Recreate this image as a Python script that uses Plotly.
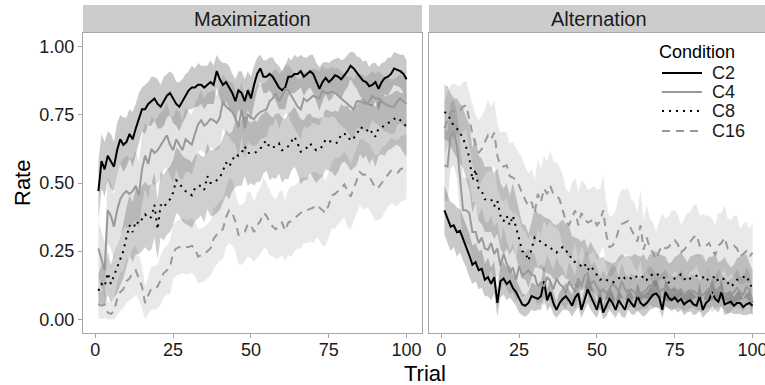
import numpy as np
import plotly.graph_objects as go

trials = list(range(1, 101))
conditions = ["C2", "C4", "C8", "C16"]
panels = ["Maximization", "Alternation"]

max_c2 = [0.47,0.58,0.55,0.60,0.58,0.56,0.62,0.66,0.64,0.65,
          0.68,0.66,0.70,0.74,0.77,0.77,0.79,0.80,0.81,0.79,
          0.78,0.80,0.82,0.83,0.81,0.79,0.78,0.80,0.82,0.84,
          0.85,0.85,0.86,0.86,0.85,0.86,0.87,0.86,0.91,0.88,
          0.86,0.87,0.85,0.83,0.80,0.84,0.83,0.80,0.84,0.81,
          0.86,0.90,0.92,0.89,0.89,0.90,0.89,0.87,0.85,0.84,
          0.85,0.89,0.89,0.90,0.90,0.91,0.89,0.90,0.91,0.90,
          0.87,0.845,0.87,0.885,0.87,0.88,0.895,0.89,0.88,0.895,
          0.91,0.93,0.92,0.905,0.89,0.875,0.87,0.855,0.86,0.87,
          0.845,0.87,0.885,0.89,0.90,0.92,0.915,0.91,0.90,0.88]
max_c4 = [0.26,0.22,0.18,0.40,0.38,0.34,0.40,0.44,0.46,0.47,
          0.46,0.47,0.49,0.455,0.55,0.60,0.57,0.625,0.61,0.62,
          0.64,0.66,0.675,0.64,0.62,0.66,0.64,0.62,0.66,0.65,
          0.64,0.68,0.715,0.73,0.71,0.72,0.735,0.73,0.72,0.74,
          0.80,0.78,0.77,0.76,0.74,0.705,0.77,0.70,0.75,0.74,
          0.735,0.75,0.76,0.765,0.77,0.80,0.81,0.83,0.80,0.82,
          0.845,0.84,0.82,0.80,0.78,0.77,0.81,0.80,0.81,0.82,
          0.815,0.81,0.84,0.83,0.83,0.835,0.83,0.82,0.81,0.80,
          0.79,0.78,0.77,0.80,0.80,0.795,0.79,0.80,0.82,0.81,
          0.81,0.80,0.79,0.785,0.78,0.78,0.80,0.81,0.80,0.79]
max_c8 = [0.105,0.13,0.12,0.17,0.13,0.16,0.185,0.215,0.25,0.30,
          0.345,0.32,0.36,0.35,0.37,0.385,0.37,0.375,0.42,0.33,
          0.42,0.41,0.43,0.44,0.465,0.51,0.50,0.48,0.47,0.465,
          0.455,0.48,0.49,0.49,0.475,0.525,0.50,0.50,0.51,0.52,
          0.545,0.575,0.56,0.58,0.605,0.60,0.61,0.635,0.61,0.61,
          0.61,0.615,0.625,0.645,0.655,0.63,0.63,0.635,0.645,0.62,
          0.625,0.635,0.655,0.67,0.645,0.615,0.62,0.63,0.645,0.63,
          0.62,0.625,0.635,0.66,0.655,0.65,0.645,0.65,0.68,0.68,
          0.675,0.655,0.665,0.675,0.705,0.70,0.70,0.68,0.69,0.67,
          0.70,0.705,0.71,0.72,0.725,0.735,0.74,0.73,0.72,0.705]
max_c16 = [0.055,0.05,0.055,0.025,0.02,0.03,0.075,0.10,0.11,0.14,
           0.15,0.17,0.18,0.15,0.12,0.06,0.09,0.115,0.115,0.12,
           0.145,0.17,0.18,0.19,0.245,0.26,0.265,0.27,0.265,0.265,
           0.27,0.26,0.23,0.235,0.24,0.25,0.26,0.295,0.31,0.325,
           0.33,0.375,0.40,0.39,0.36,0.31,0.31,0.32,0.35,0.345,
           0.32,0.345,0.36,0.39,0.38,0.355,0.34,0.33,0.345,0.355,
           0.325,0.355,0.36,0.37,0.38,0.39,0.40,0.40,0.405,0.41,
           0.42,0.41,0.40,0.39,0.42,0.455,0.46,0.47,0.48,0.495,
           0.47,0.45,0.48,0.51,0.54,0.53,0.53,0.525,0.50,0.48,
           0.485,0.50,0.515,0.53,0.545,0.54,0.535,0.55,0.555,0.56]

alt_c2 = [0.40,0.37,0.34,0.345,0.32,0.325,0.295,0.27,0.235,0.20,
          0.21,0.18,0.185,0.145,0.155,0.13,0.155,0.06,0.14,0.15,
          0.13,0.14,0.115,0.10,0.075,0.055,0.05,0.06,0.085,0.08,
          0.075,0.085,0.14,0.07,0.10,0.06,0.035,0.06,0.075,0.085,
          0.07,0.05,0.08,0.095,0.035,0.07,0.11,0.085,0.06,0.035,
          0.08,0.025,0.05,0.075,0.06,0.035,0.07,0.05,0.035,0.075,
          0.06,0.045,0.085,0.06,0.05,0.06,0.075,0.09,0.095,0.08,
          0.035,0.10,0.08,0.07,0.08,0.065,0.075,0.055,0.065,0.07,
          0.055,0.05,0.085,0.035,0.06,0.07,0.10,0.075,0.065,0.10,
          0.055,0.06,0.065,0.05,0.06,0.06,0.045,0.055,0.06,0.05]
alt_c4 = [0.565,0.56,0.675,0.685,0.64,0.53,0.40,0.40,0.39,0.32,
          0.32,0.28,0.30,0.26,0.255,0.28,0.24,0.26,0.195,0.24,
          0.20,0.17,0.19,0.145,0.195,0.16,0.17,0.18,0.165,0.16,
          0.12,0.135,0.12,0.155,0.14,0.11,0.15,0.13,0.12,0.095,
          0.14,0.12,0.10,0.15,0.12,0.16,0.17,0.13,0.14,0.12,
          0.095,0.11,0.095,0.11,0.13,0.12,0.10,0.14,0.11,0.095,
          0.11,0.10,0.085,0.095,0.10,0.11,0.125,0.115,0.105,0.10,
          0.11,0.115,0.10,0.10,0.095,0.105,0.11,0.09,0.095,0.10,
          0.105,0.095,0.085,0.09,0.10,0.115,0.085,0.10,0.115,0.105,
          0.095,0.08,0.09,0.10,0.115,0.10,0.09,0.12,0.11,0.06]
alt_c8 = [0.76,0.755,0.73,0.71,0.70,0.68,0.665,0.63,0.595,0.51,
          0.55,0.48,0.47,0.44,0.44,0.44,0.415,0.435,0.38,0.36,
          0.38,0.345,0.38,0.34,0.295,0.25,0.245,0.215,0.255,0.30,
          0.29,0.285,0.275,0.27,0.265,0.25,0.245,0.255,0.265,0.25,
          0.245,0.215,0.21,0.205,0.195,0.205,0.18,0.195,0.18,0.16,
          0.145,0.15,0.145,0.14,0.135,0.14,0.15,0.16,0.15,0.155,
          0.15,0.16,0.155,0.15,0.16,0.145,0.16,0.165,0.17,0.16,
          0.155,0.15,0.135,0.14,0.15,0.155,0.165,0.15,0.14,0.15,
          0.155,0.16,0.16,0.155,0.14,0.15,0.15,0.16,0.14,0.145,
          0.15,0.135,0.12,0.13,0.145,0.15,0.155,0.16,0.135,0.11]
alt_c16 = [0.70,0.73,0.76,0.765,0.77,0.765,0.78,0.785,0.73,0.68,
           0.64,0.61,0.625,0.65,0.675,0.66,0.685,0.60,0.565,0.56,
           0.565,0.525,0.52,0.51,0.49,0.46,0.44,0.415,0.43,0.39,
           0.46,0.43,0.48,0.46,0.49,0.46,0.455,0.44,0.40,0.36,
           0.345,0.37,0.40,0.345,0.39,0.37,0.355,0.36,0.37,0.345,
           0.36,0.40,0.31,0.265,0.27,0.29,0.33,0.35,0.355,0.36,
           0.33,0.31,0.285,0.345,0.255,0.30,0.26,0.245,0.22,0.25,
           0.27,0.26,0.265,0.28,0.29,0.275,0.245,0.255,0.27,0.285,
           0.30,0.31,0.27,0.265,0.27,0.28,0.26,0.235,0.27,0.28,
           0.30,0.26,0.265,0.27,0.26,0.23,0.24,0.25,0.23,0.245]

# ribbon half-widths
hw_max_c2 = [0.11,0.10,0.10,0.09,0.10,0.09,0.10,0.09,0.10,0.09,
             0.09,0.10,0.09,0.09,0.08,0.09,0.08,0.09,0.08,0.09,
             0.08,0.09,0.08,0.08,0.09,0.08,0.09,0.08,0.08,0.07,
             0.08,0.07,0.08,0.07,0.08,0.07,0.08,0.07,0.06,0.07,
             0.08,0.07,0.08,0.07,0.08,0.07,0.08,0.08,0.07,0.08,
             0.07,0.06,0.05,0.06,0.06,0.06,0.07,0.07,0.08,0.07,
             0.08,0.07,0.06,0.07,0.06,0.06,0.07,0.06,0.06,0.07,
             0.07,0.08,0.07,0.06,0.07,0.07,0.06,0.07,0.07,0.06,
             0.06,0.05,0.06,0.06,0.07,0.07,0.08,0.07,0.08,0.07,
             0.08,0.07,0.06,0.07,0.06,0.06,0.06,0.06,0.07,0.07]
hw_max_c4 = [0.10,0.10,0.10,0.12,0.12,0.12,0.12,0.13,0.13,0.13,
             0.13,0.12,0.13,0.12,0.13,0.12,0.13,0.12,0.12,0.12,
             0.12,0.11,0.12,0.11,0.12,0.11,0.12,0.11,0.12,0.11,
             0.11,0.11,0.10,0.11,0.10,0.11,0.10,0.11,0.10,0.11,
             0.10,0.10,0.10,0.11,0.10,0.11,0.10,0.11,0.10,0.10,
             0.10,0.11,0.10,0.10,0.10,0.09,0.10,0.09,0.10,0.09,
             0.09,0.09,0.10,0.10,0.10,0.11,0.10,0.10,0.10,0.10,
             0.10,0.10,0.09,0.09,0.09,0.09,0.09,0.10,0.10,0.10,
             0.10,0.11,0.11,0.10,0.10,0.10,0.10,0.10,0.09,0.09,
             0.10,0.10,0.10,0.10,0.10,0.10,0.09,0.09,0.09,0.09]
hw_max_c8 = [0.06,0.07,0.07,0.08,0.07,0.08,0.09,0.09,0.10,0.11,
             0.11,0.11,0.12,0.11,0.12,0.12,0.12,0.12,0.12,0.11,
             0.12,0.12,0.12,0.12,0.12,0.12,0.12,0.12,0.12,0.12,
             0.12,0.12,0.12,0.11,0.12,0.12,0.12,0.12,0.12,0.12,
             0.12,0.12,0.12,0.11,0.12,0.11,0.12,0.11,0.12,0.11,
             0.12,0.11,0.12,0.11,0.11,0.12,0.11,0.12,0.11,0.12,
             0.11,0.12,0.11,0.11,0.11,0.12,0.11,0.12,0.11,0.11,
             0.12,0.11,0.11,0.11,0.11,0.11,0.12,0.11,0.11,0.10,
             0.11,0.11,0.11,0.11,0.10,0.11,0.10,0.11,0.10,0.11,
             0.10,0.10,0.11,0.10,0.10,0.10,0.10,0.10,0.11,0.11]
hw_max_c16 = [0.05,0.05,0.05,0.04,0.04,0.05,0.06,0.07,0.07,0.08,
              0.08,0.09,0.09,0.08,0.08,0.06,0.07,0.08,0.08,0.08,
              0.09,0.09,0.09,0.10,0.10,0.10,0.10,0.10,0.10,0.10,
              0.10,0.10,0.10,0.10,0.10,0.10,0.10,0.11,0.11,0.11,
              0.11,0.11,0.12,0.12,0.11,0.11,0.11,0.11,0.12,0.12,
              0.11,0.12,0.12,0.13,0.12,0.12,0.11,0.11,0.12,0.12,
              0.11,0.12,0.13,0.12,0.12,0.13,0.12,0.12,0.12,0.13,
              0.12,0.12,0.13,0.12,0.12,0.12,0.13,0.12,0.12,0.12,
              0.13,0.12,0.12,0.12,0.12,0.13,0.12,0.12,0.12,0.12,
              0.12,0.13,0.12,0.12,0.12,0.12,0.12,0.12,0.12,0.12]
hw_alt_c2 = [0.09,0.09,0.09,0.08,0.09,0.08,0.08,0.08,0.08,0.07,
             0.07,0.07,0.07,0.06,0.07,0.06,0.06,0.05,0.06,0.06,
             0.06,0.06,0.05,0.05,0.05,0.04,0.04,0.04,0.05,0.05,
             0.04,0.05,0.06,0.04,0.05,0.04,0.03,0.04,0.04,0.05,
             0.04,0.04,0.05,0.05,0.03,0.04,0.05,0.05,0.04,0.03,
             0.04,0.03,0.04,0.04,0.04,0.03,0.04,0.04,0.03,0.04,
             0.04,0.03,0.05,0.04,0.04,0.04,0.04,0.05,0.05,0.04,
             0.03,0.05,0.04,0.04,0.04,0.04,0.04,0.04,0.04,0.04,
             0.04,0.03,0.05,0.03,0.04,0.04,0.05,0.04,0.04,0.05,
             0.04,0.04,0.04,0.03,0.04,0.04,0.03,0.04,0.04,0.03]
hw_alt_c4 = [0.13,0.13,0.12,0.12,0.12,0.13,0.12,0.12,0.12,0.11,
             0.11,0.10,0.11,0.10,0.10,0.10,0.10,0.10,0.09,0.10,
             0.09,0.08,0.09,0.08,0.09,0.08,0.08,0.08,0.08,0.08,
             0.07,0.07,0.07,0.08,0.07,0.07,0.08,0.07,0.07,0.06,
             0.07,0.07,0.06,0.08,0.07,0.08,0.08,0.07,0.07,0.07,
             0.06,0.07,0.06,0.07,0.07,0.07,0.06,0.07,0.06,0.06,
             0.06,0.06,0.06,0.06,0.06,0.07,0.07,0.07,0.06,0.06,
             0.06,0.07,0.06,0.06,0.06,0.06,0.07,0.06,0.06,0.06,
             0.06,0.06,0.06,0.06,0.06,0.07,0.06,0.06,0.07,0.06,
             0.06,0.06,0.06,0.06,0.07,0.06,0.06,0.07,0.06,0.05]
hw_alt_c8 = [0.10,0.10,0.10,0.10,0.11,0.11,0.11,0.11,0.12,0.12,
             0.12,0.12,0.12,0.12,0.12,0.12,0.12,0.12,0.12,0.12,
             0.12,0.11,0.12,0.11,0.11,0.10,0.10,0.10,0.10,0.11,
             0.10,0.10,0.10,0.10,0.10,0.10,0.10,0.10,0.10,0.10,
             0.10,0.09,0.09,0.09,0.09,0.09,0.08,0.09,0.08,0.08,
             0.08,0.08,0.07,0.07,0.07,0.07,0.08,0.08,0.08,0.08,
             0.08,0.08,0.08,0.08,0.08,0.07,0.08,0.08,0.08,0.08,
             0.08,0.08,0.07,0.07,0.08,0.08,0.08,0.08,0.07,0.08,
             0.08,0.08,0.08,0.08,0.07,0.08,0.08,0.08,0.07,0.07,
             0.08,0.07,0.07,0.07,0.08,0.08,0.08,0.08,0.07,0.07]
hw_alt_c16 = [0.10,0.10,0.10,0.10,0.09,0.09,0.09,0.09,0.10,0.11,
              0.11,0.12,0.12,0.12,0.13,0.12,0.12,0.12,0.12,0.13,
              0.12,0.12,0.13,0.12,0.12,0.13,0.12,0.12,0.12,0.12,
              0.13,0.12,0.12,0.12,0.13,0.12,0.12,0.12,0.13,0.12,
              0.12,0.13,0.12,0.12,0.12,0.13,0.12,0.12,0.12,0.13,
              0.12,0.13,0.12,0.11,0.11,0.11,0.12,0.13,0.12,0.12,
              0.11,0.12,0.11,0.13,0.11,0.12,0.11,0.11,0.10,0.11,
              0.12,0.11,0.11,0.12,0.11,0.11,0.10,0.11,0.12,0.11,
              0.12,0.11,0.11,0.12,0.11,0.10,0.11,0.11,0.12,0.11,
              0.12,0.11,0.10,0.11,0.12,0.10,0.11,0.11,0.10,0.11]

means = {
    "Maximization": [max_c2, max_c4, max_c8, max_c16],
    "Alternation": [alt_c2, alt_c4, alt_c8, alt_c16],
}
halfw = {
    "Maximization": [hw_max_c2, hw_max_c4, hw_max_c8, hw_max_c16],
    "Alternation": [hw_alt_c2, hw_alt_c4, hw_alt_c8, hw_alt_c16],
}

line_colors = ["#000000", "#999999", "#000000", "#999999"]
line_dash = ["solid", "solid", "2px,5px", "8px,6px"]
fill_colors = ["rgba(0,0,0,0.21)", "rgba(0,0,0,0.11)", "rgba(0,0,0,0.19)", "rgba(0,0,0,0.085)"]

FONT = "Liberation Sans, Arial, sans-serif"
fig = go.Figure()

W, H = 765, 385
ml, mt, mb, mr = 83, 33, 52, 0
pw = W - ml - mr
ph = H - mt - mb
panel_px = 339
gap_px = 7
dom_left = [0, panel_px / pw]
dom_right = [(panel_px + gap_px) / pw, 1]
xr_left = [-3.95, 104.95]
px_per = panel_px / (xr_left[1] - xr_left[0])
right_w = pw - (panel_px + gap_px)
xr_right = [-3.95, -3.95 + right_w / px_per]

def px_to_paper_x(px):
    return (px - ml) / pw

def px_to_paper_y(py):
    return 1 - (py - mt) / ph

for pi, panel in enumerate(panels):
    xa = "x" if pi == 0 else "x2"
    ya = "y" if pi == 0 else "y2"
    for ci, cond in enumerate(conditions):
        m = np.array(means[panel][ci])
        h = np.array(halfw[panel][ci])
        up = np.clip(m + h, 0, 1)
        lo = np.clip(m - h, 0, 1)
        fig.add_trace(go.Scatter(
            x=trials + trials[::-1], y=list(up) + list(lo[::-1]),
            fill="toself", fillcolor=fill_colors[ci], line=dict(width=0),
            mode="lines", hoverinfo="skip", showlegend=False,
            xaxis=xa, yaxis=ya))
    for ci, cond in enumerate(conditions):
        fig.add_trace(go.Scatter(
            x=trials, y=means[panel][ci], mode="lines", name=cond,
            line=dict(color=line_colors[ci], width=2, dash=line_dash[ci]),
            showlegend=False, xaxis=xa, yaxis=ya))

axis_common = dict(showgrid=False, zeroline=False, showline=True, mirror=True,
                   linecolor="#a6a6a6", linewidth=1, ticklen=4, automargin=False,
                   tickcolor="#a6a6a6", tickfont=dict(family=FONT, size=18, color="#1a1a1a"))

fig.update_layout(
    width=W, height=H, margin=dict(l=ml, r=mr, t=mt, b=mb, pad=0, autoexpand=False),
    paper_bgcolor="white", plot_bgcolor="white",
    font=dict(family=FONT, color="#000000"),
    xaxis=dict(domain=dom_left, range=xr_left, tickvals=[0, 25, 50, 75, 100], ticks="outside",
               ticklabeloverflow="allow", ticklabelstandoff=-4, **axis_common),
    xaxis2=dict(domain=dom_right, range=xr_right, tickvals=[0, 25, 50, 75, 100], ticks="outside",
                ticklabeloverflow="allow", ticklabelstandoff=-4, **axis_common),
    yaxis=dict(domain=[0, 1], range=[-0.05, 1.05], tickvals=[0, 0.25, 0.5, 0.75, 1.0],
               ticktext=["0.00", "0.25", "0.50", "0.75", "1.00"], anchor="x", ticks="outside", **axis_common),
    yaxis2=dict(domain=[0, 1], range=[-0.05, 1.05], tickvals=[0, 0.25, 0.5, 0.75, 1.0],
                showticklabels=False, anchor="x2", ticks="", **axis_common),
    showlegend=False,
)

# facet strips
strip_h = 28 / ph
for dom, label in [(dom_left, "Maximization"), (dom_right, "Alternation")]:
    x1 = dom[1] if dom is dom_left else dom[0] + panel_px / pw
    fig.add_shape(type="rect", xref="paper", yref="paper", x0=dom[0], x1=x1,
                  y0=1, y1=1 + strip_h, fillcolor="#cccccc", line=dict(width=0), layer="below")
    fig.add_annotation(xref="paper", yref="paper", x=(dom[0] + x1) / 2,
                       y=1 + strip_h / 2, text=label, showarrow=False,
                       font=dict(family=FONT, size=20, color="#1a1a1a"), xanchor="center", yanchor="middle")

# legend (drawn manually to match spacing)
fig.add_annotation(xref="paper", yref="paper", x=px_to_paper_x(657), y=px_to_paper_y(52),
                   text="Condition", showarrow=False, xanchor="left", yanchor="middle",
                   font=dict(family=FONT, size=18, color="#000000"))
leg_rows = [73, 92, 111, 131]
for ci, cond in enumerate(conditions):
    yy = px_to_paper_y(leg_rows[ci])
    fig.add_shape(type="line", xref="paper", yref="paper", x0=px_to_paper_x(662), x1=px_to_paper_x(702),
                  y0=yy, y1=yy, line=dict(color=line_colors[ci], width=2, dash=line_dash[ci]))
    fig.add_annotation(xref="paper", yref="paper", x=px_to_paper_x(710), y=yy, text=cond,
                       showarrow=False, xanchor="left", yanchor="middle",
                       font=dict(family=FONT, size=18, color="#1a1a1a"))

fig.add_annotation(xref="paper", yref="paper", x=px_to_paper_x(425), y=px_to_paper_y(373),
                   text="Trial", showarrow=False, font=dict(family=FONT, size=22, color="#000000"),
                   xanchor="center", yanchor="middle")
fig.add_annotation(xref="paper", yref="paper", x=px_to_paper_x(22), y=px_to_paper_y(183),
                   text="Rate", textangle=-90, showarrow=False,
                   font=dict(family=FONT, size=22, color="#000000"), xanchor="center", yanchor="middle")

fig.write_html("out.html", config={"displayModeBar": False},
               post_script="document.documentElement.style.margin='0';document.body.style.margin='0';"
                           "document.body.style.overflow='hidden';document.documentElement.style.overflow='hidden';")
